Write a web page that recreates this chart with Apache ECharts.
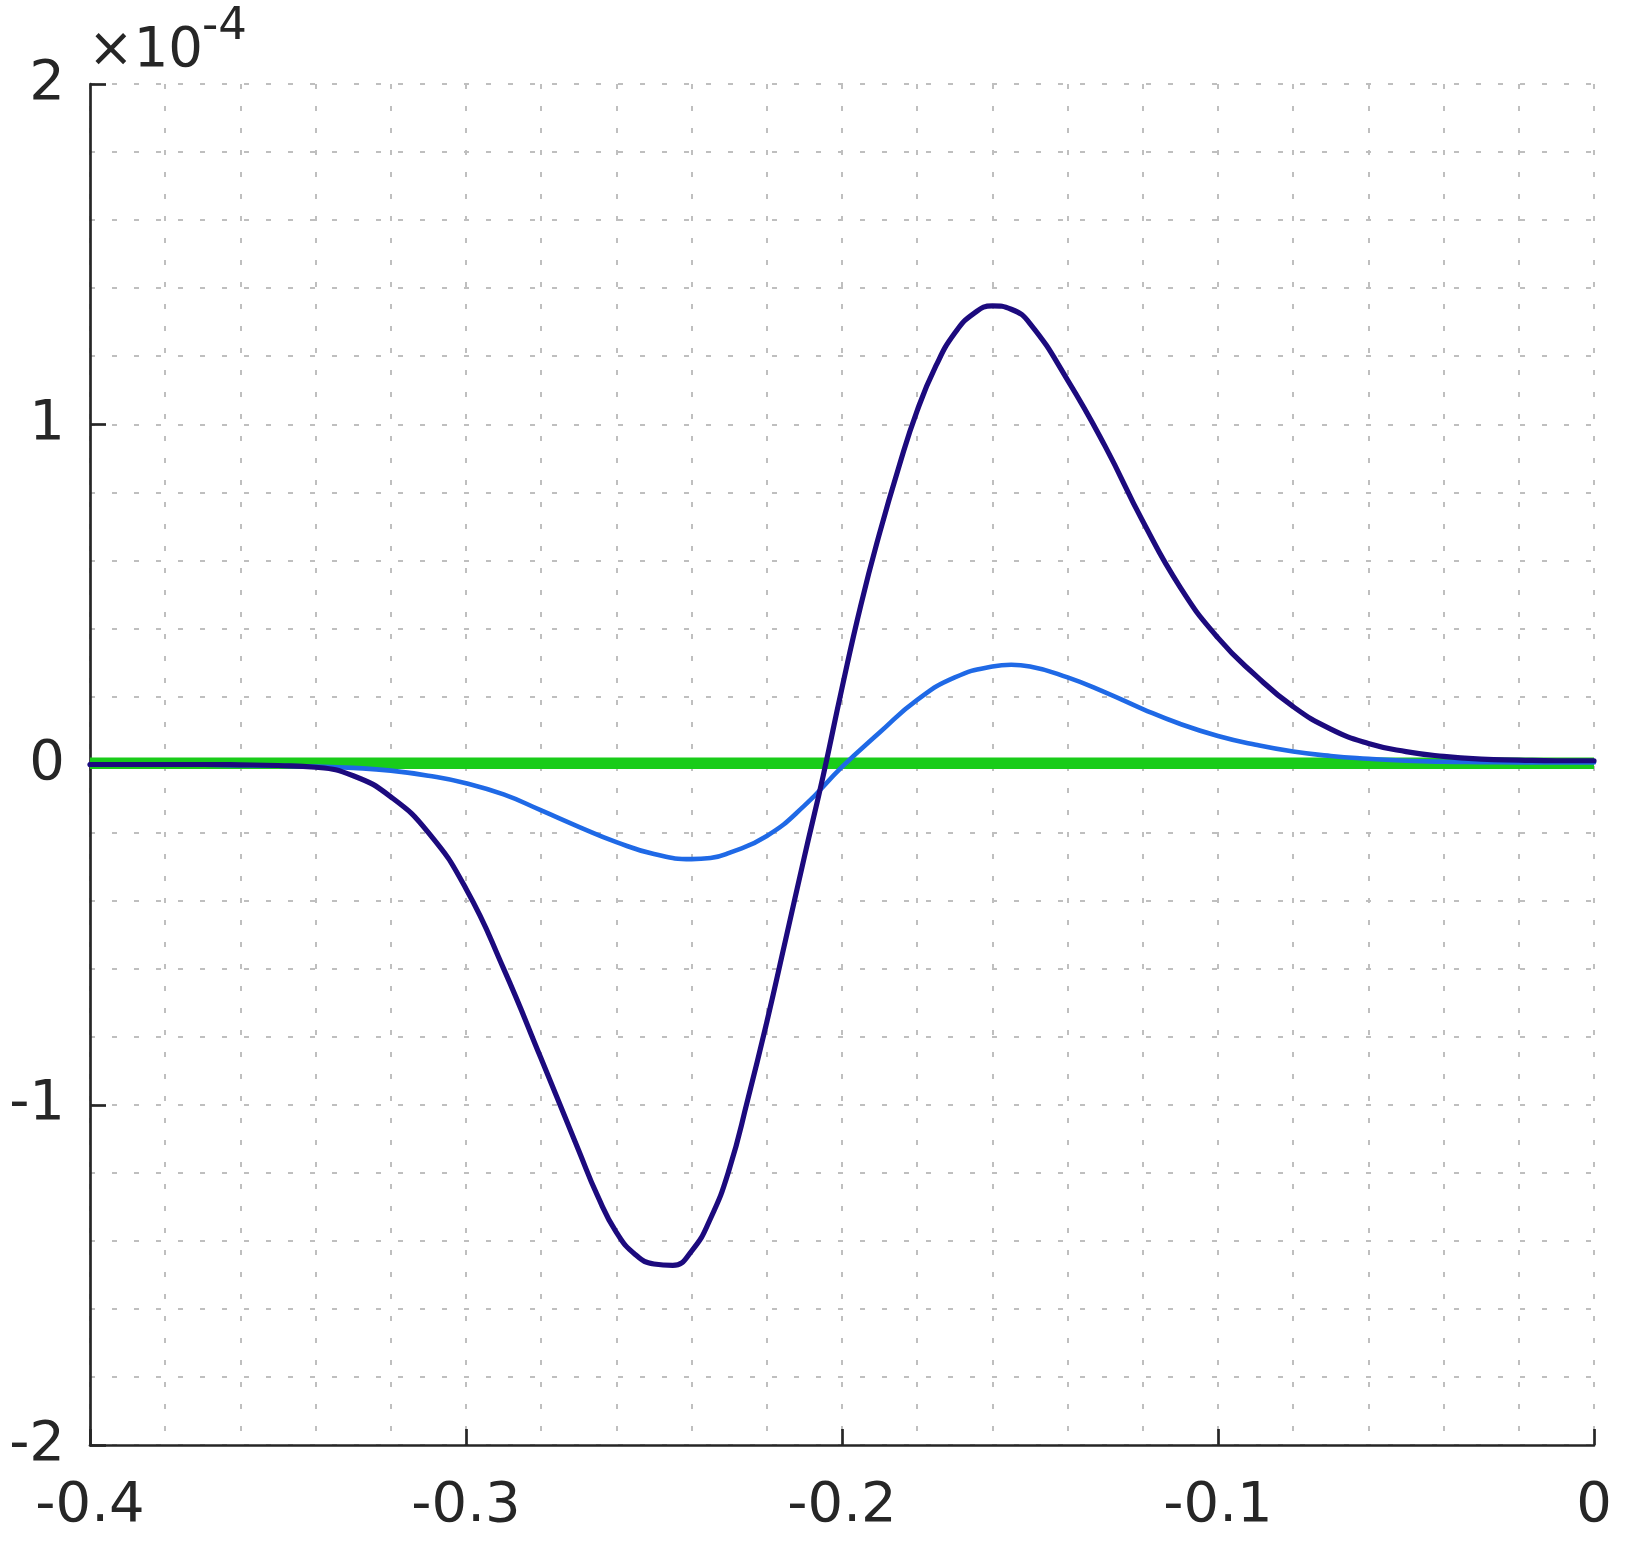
<!DOCTYPE html>
<html>
<head>
<meta charset="utf-8">
<script src="https://cdn.jsdelivr.net/npm/echarts@6/dist/echarts.min.js"></script>
<style>
  html, body { margin: 0; padding: 0; background: #ffffff; }
  #chart { width: 1642px; height: 1542px; }
</style>
</head>
<body>
<div id="chart"></div>
<script>
// ---- data (y values in units of 1e-4) ----
const navyX = [-0.40, -0.39, -0.38, -0.37, -0.36, -0.35, -0.34, -0.33, -0.32, -0.31, -0.30, -0.29, -0.28, -0.27,
  -0.265, -0.26, -0.255, -0.25, -0.245, -0.24, -0.235, -0.23, -0.225, -0.22, -0.215, -0.21, -0.205, -0.20, -0.195, -0.19, -0.185, -0.18, -0.175, -0.17, -0.165, -0.16, -0.155,
  -0.15, -0.14, -0.13, -0.12, -0.11, -0.10, -0.09, -0.08, -0.07, -0.06, -0.05, -0.04, -0.03, -0.02, -0.01, 0.00];
const navyY = [0.000, 0.000, 0.000, 0.000, -0.001, -0.003, -0.008, -0.033, -0.095, -0.200, -0.365, -0.600, -0.865, -1.135,
  -1.268, -1.375, -1.440, -1.468, -1.472, -1.430, -1.335, -1.190, -0.982, -0.757, -0.515, -0.271, -0.033, 0.225, 0.468, 0.680, 0.870, 1.040, 1.172, 1.268, 1.325, 1.348, 1.338,
  1.296, 1.130, 0.935, 0.715, 0.520, 0.372, 0.262, 0.170, 0.104, 0.062, 0.038, 0.024, 0.016, 0.013, 0.011, 0.011];

const blueX = [-0.40, -0.38, -0.36, -0.34, -0.33, -0.32, -0.31, -0.30, -0.29, -0.28, -0.27, -0.26, -0.25, -0.24, -0.235,
  -0.23, -0.22, -0.21, -0.20, -0.19, -0.18, -0.17, -0.16, -0.155, -0.15, -0.14, -0.13, -0.12, -0.11, -0.10,
  -0.09, -0.08, -0.07, -0.06, -0.05, -0.04, -0.03, -0.02, -0.01, 0.00];
const blueY = [0.000, 0.000, -0.002, -0.006, -0.010, -0.018, -0.033, -0.055, -0.088, -0.135, -0.183, -0.228, -0.263, -0.278, -0.275,
  -0.260, -0.210, -0.121, -0.007, 0.094, 0.190, 0.256, 0.288, 0.293, 0.288, 0.256, 0.212, 0.163, 0.119, 0.084,
  0.058, 0.038, 0.025, 0.017, 0.011, 0.008, 0.007, 0.006, 0.006, 0.006];

const greenX = [-0.40, -0.30, -0.20, -0.10, 0.00];
const greenY = [0.004, 0.004, 0.004, 0.004, 0.004];

const xTickValues = [-0.4, -0.3, -0.2, -0.1, 0];
const xTickLabels = ['-0.4', '-0.3', '-0.2', '-0.1', '0'];
const yTickValues = [-2, -1, 0, 1, 2];
const yTickLabels = ['-2', '-1', '0', '1', '2'];
const exponentBase = '\u00d710';
const exponentPower = '-4';

function pairs(xs, ys) { return xs.map((x, i) => [x, ys[i]]); }
function labelFor(values, labels, v) {
  let best = 0, bd = Infinity;
  values.forEach((t, i) => { const d = Math.abs(t - v); if (d < bd) { bd = d; best = i; } });
  return labels[best];
}

const TXT = '#262626';
const FONT = 'DejaVu Sans';
const gridLine = { color: '#bfbfbf', width: 2, type: [5, 17] };

const chart = echarts.init(document.getElementById('chart'), null, { renderer: 'canvas' });
const option = {
  animation: false,
  backgroundColor: '#ffffff',
  grid: { left: 90, top: 84, right: 48, bottom: 97, containLabel: false },
  xAxis: {
    type: 'value', min: -0.4, max: 0, interval: 0.1,
    axisLine: { show: true, onZero: false, lineStyle: { color: TXT, width: 2.7 } },
    axisTick: { show: true, inside: true, length: 16, lineStyle: { color: TXT, width: 2.7 } },
    axisLabel: { show: true, margin: 33, fontSize: 56, fontFamily: FONT, color: TXT,
      showMinLabel: true, showMaxLabel: true,
      formatter: v => labelFor(xTickValues, xTickLabels, v) },
    splitLine: { show: true, lineStyle: gridLine },
    minorTick: { show: false, splitNumber: 5 },
    minorSplitLine: { show: true, lineStyle: gridLine }
  },
  yAxis: {
    type: 'value', min: -2, max: 2, interval: 1,
    axisLine: { show: true, onZero: false, lineStyle: { color: TXT, width: 2.7 } },
    axisTick: { show: true, inside: true, length: 16, lineStyle: { color: TXT, width: 2.7 } },
    axisLabel: { show: true, margin: 25, fontSize: 56, fontFamily: FONT, color: TXT,
      showMinLabel: true, showMaxLabel: true,
      formatter: v => labelFor(yTickValues, yTickLabels, v) },
    splitLine: { show: true, lineStyle: gridLine },
    minorTick: { show: false, splitNumber: 5 },
    minorSplitLine: { show: true, lineStyle: gridLine }
  },
  graphic: [
    { type: 'text', left: 88, top: 24, z: 100,
      style: { text: exponentBase, font: '54.5px "DejaVu Sans"', fill: TXT } },
    { type: 'text', left: 202, top: 5, z: 100,
      style: { text: exponentPower, font: '45px "DejaVu Sans"', fill: TXT } }
  ],
  series: [
    { type: 'line', name: 'green', data: pairs(greenX, greenY), showSymbol: false, symbol: 'none',
      lineStyle: { color: '#19cc19', width: 11.5 }, z: 2 },
    { type: 'line', name: 'blue', data: pairs(blueX, blueY), showSymbol: false, symbol: 'none', smooth: true,
      lineStyle: { color: '#1f69e6', width: 4.6, cap: 'round', join: 'round' }, z: 3 },
    { type: 'line', name: 'navy', data: pairs(navyX, navyY), showSymbol: false, symbol: 'none', smooth: true,
      lineStyle: { color: '#1c0a7e', width: 5.2, cap: 'round', join: 'round' }, z: 4 }
  ]
};
chart.setOption(option);
</script>
</body>
</html>
